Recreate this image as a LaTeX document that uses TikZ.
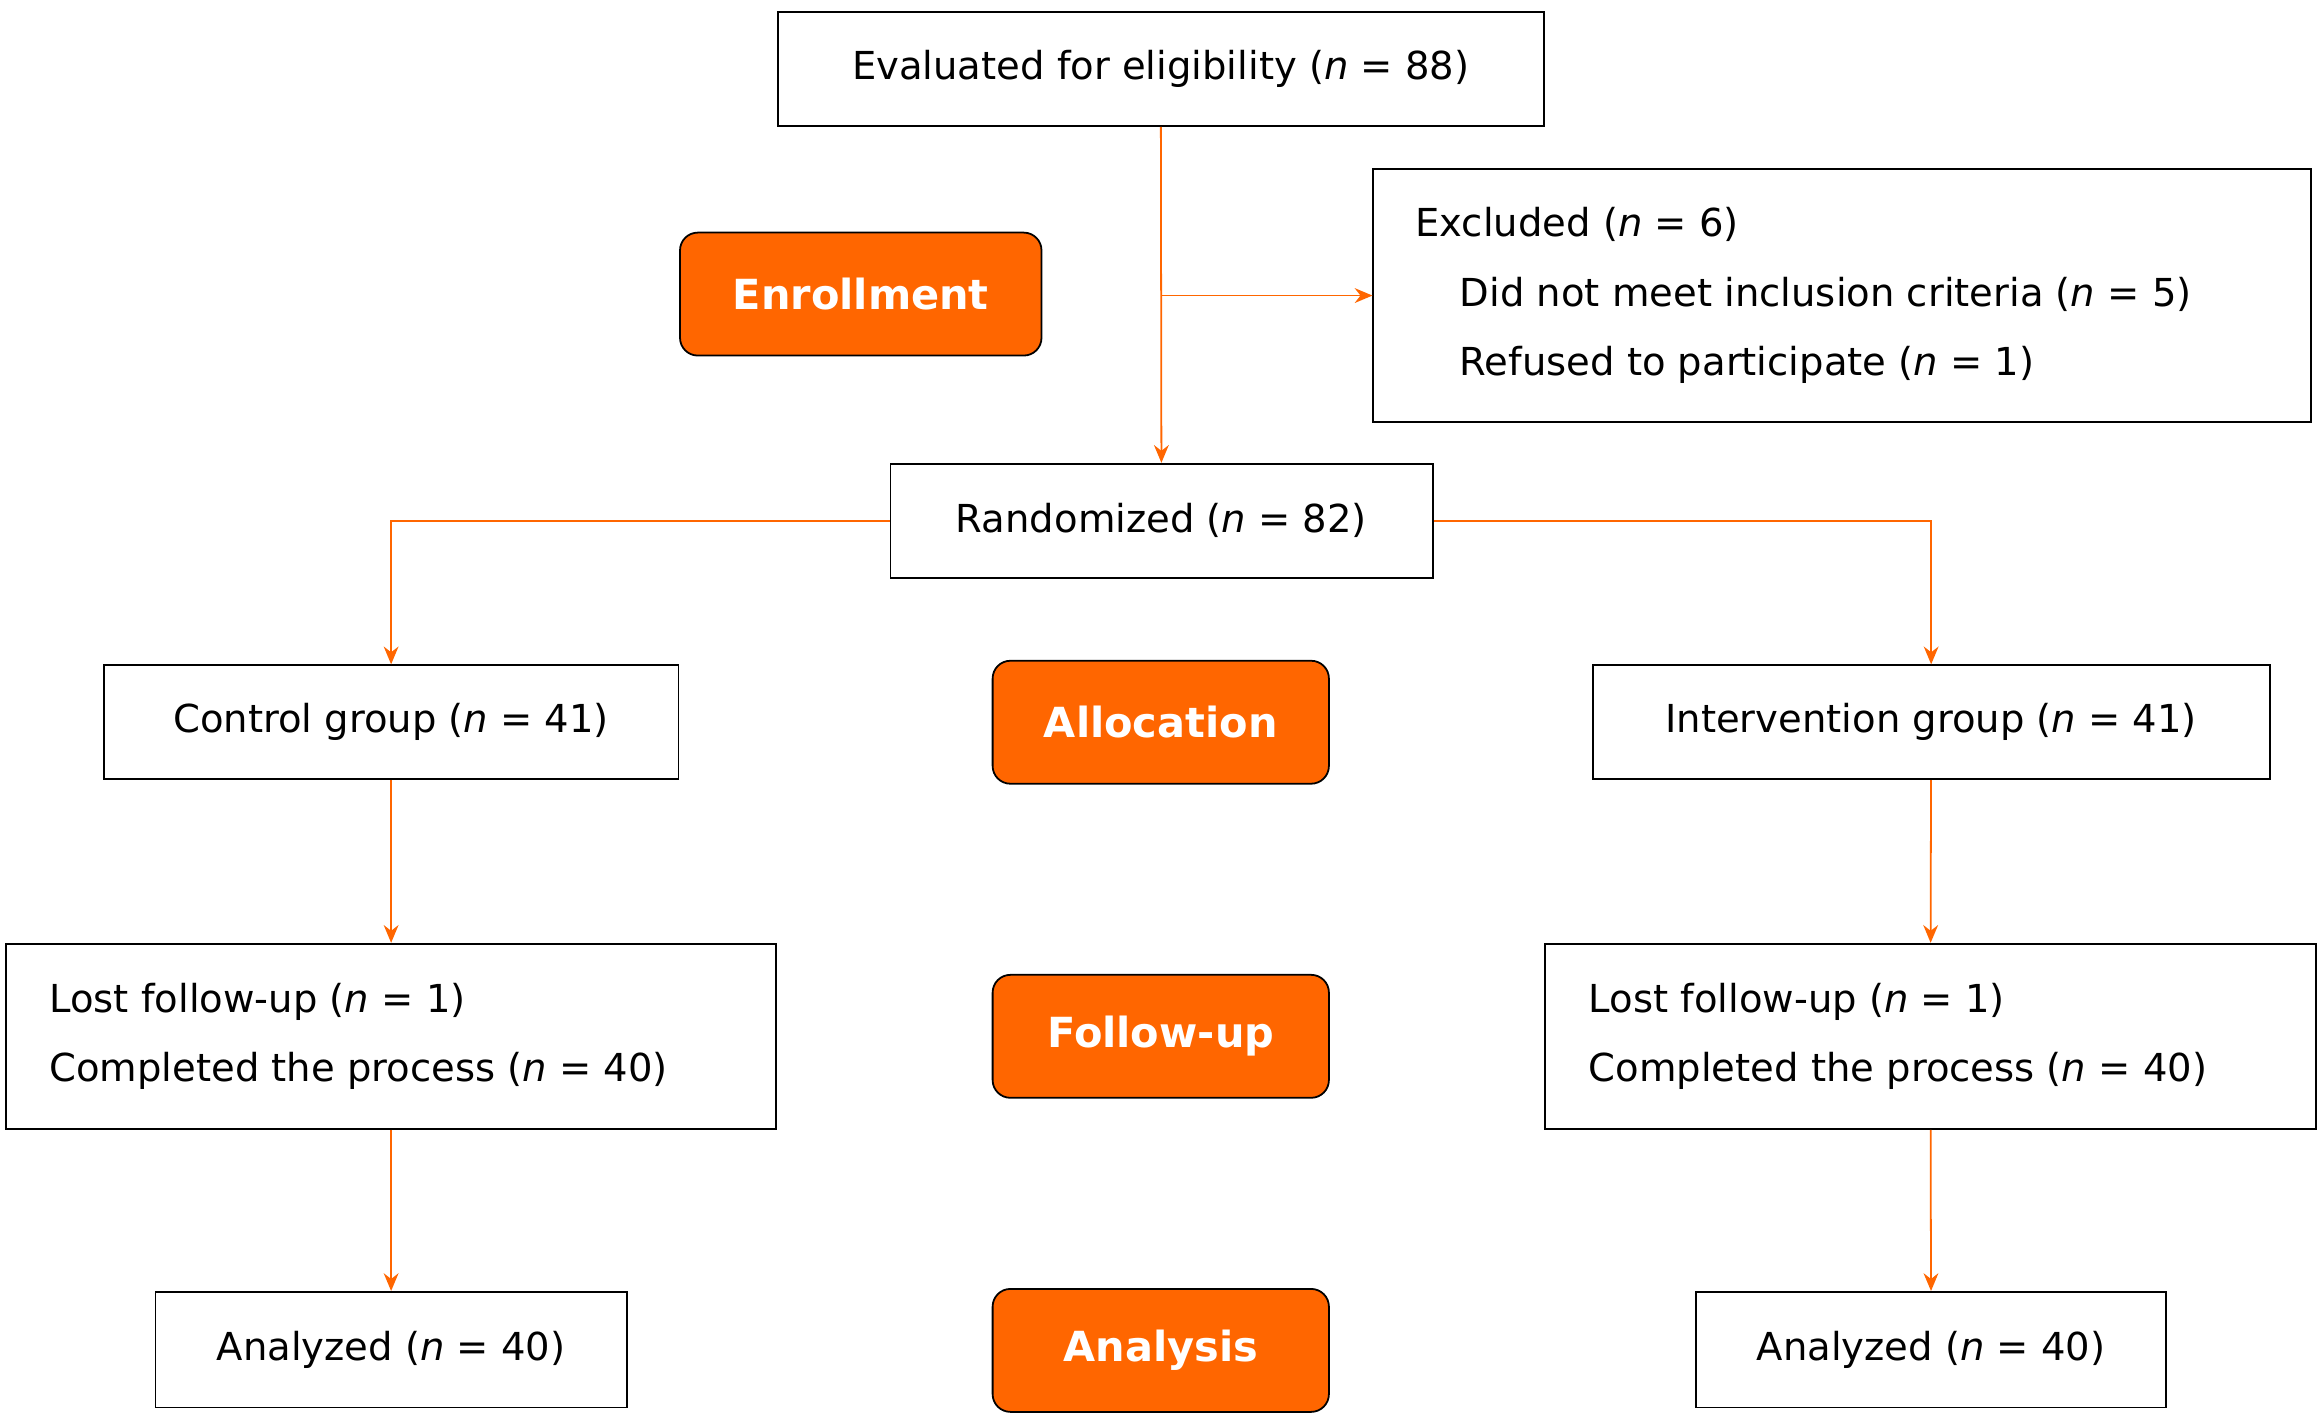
\documentclass[tikz,border=0pt]{standalone}
\usepackage{fontspec}
\setmainfont{DejaVu Sans}
\usetikzlibrary{arrows.meta}
\definecolor{org}{HTML}{FF6600}
\begin{document}
\begin{tikzpicture}[x=0.5pt,y=-0.5pt,
 box/.style={draw,line width=0.6pt,inner sep=0pt,font=\fontsize{13}{20}\selectfont},
 lab/.style={draw=black,fill=org,rounded corners=6pt,text=white,font=\fontsize{14}{16}\selectfont\bfseries,inner sep=0pt,line width=0.6pt},
 arr/.style={draw=org,line width=0.6pt,-{Stealth[length=6pt,width=5pt]}}]
\useasboundingbox (0,0) rectangle (1568,958);
\newcommand{\nn}{\textit{n}}
\node[box,minimum width=258.5pt,minimum height=38.5pt] (eval) at (783.5,46.5) {Evaluated for eligibility (\nn{} = 88)};
\node[box,minimum width=316.5pt,minimum height=85.5pt] (excl) at (1243.5,199.5) {};
\node[anchor=west,align=left,font=\fontsize{13}{23.5}\selectfont,inner sep=0pt] (exclt) at (955,199.5) {Excluded (\nn{} = 6)\\\hspace{15pt}Did not meet inclusion criteria (\nn{} = 5)\\\hspace{15pt}Refused to participate (\nn{} = 1)};
\node[lab,minimum width=122pt,minimum height=41.5pt] (enr) at (581,198.5) {Enrollment};
\node[box,minimum width=183pt,minimum height=38.5pt] (rand) at (784,351.5) {Randomized (\nn{} = 82)};
\node[box,minimum width=194pt,minimum height=38.5pt] (ctrl) at (264,487.5) {Control group (\nn{} = 41)};
\node[lab,minimum width=113.5pt,minimum height=41.5pt] (alloc) at (783.5,487.5) {Allocation};
\node[box,minimum width=228.5pt,minimum height=38.5pt] (int) at (1303.5,487.5) {Intervention group (\nn{} = 41)};
\node[box,minimum width=260pt,minimum height=62.5pt] (lostl) at (264,699.5) {};
\node[anchor=west,align=left,font=\fontsize{13}{23.5}\selectfont,inner sep=0pt] at (33,699.5) {Lost follow-up (\nn{} = 1)\\Completed the process (\nn{} = 40)};
\node[lab,minimum width=113.5pt,minimum height=41.5pt] (fu) at (783.5,699.5) {Follow-up};
\node[box,minimum width=260pt,minimum height=62.5pt] (lostr) at (1303,699.5) {};
\node[anchor=west,align=left,font=\fontsize{13}{23.5}\selectfont,inner sep=0pt] at (1072,699.5) {Lost follow-up (\nn{} = 1)\\Completed the process (\nn{} = 40)};
\node[box,minimum width=159pt,minimum height=39pt] (anl) at (264,911) {Analyzed (\nn{} = 40)};
\node[lab,minimum width=113.5pt,minimum height=41.5pt] (ana) at (783.5,911.5) {Analysis};
\node[box,minimum width=158.5pt,minimum height=39pt] (anr) at (1303.5,911) {Analyzed (\nn{} = 40)};
\coordinate (br) at (784,199.5);
\draw[arr] (eval) -- (rand);
\draw[arr] (br) -- (excl.west);
\draw[arr] (rand.west) -| (ctrl.north);
\draw[arr] (rand.east) -| (int.north);
\draw[arr] (ctrl) -- (lostl);
\draw[arr] (int) -- (lostr);
\draw[arr] (lostl) -- (anl);
\draw[arr] (lostr) -- (anr);
\end{tikzpicture}
\end{document}
